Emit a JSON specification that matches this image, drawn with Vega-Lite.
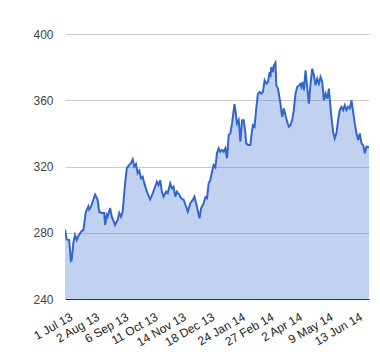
{
  "$schema": "https://vega.github.io/schema/vega-lite/v6.json",
  "autosize": "none",
  "width": 304,
  "height": 265,
  "padding": {"left": 65, "top": 34, "right": 11, "bottom": 61},
  "background": "white",
  "config": {
    "view": {"stroke": null},
    "font": "Liberation Sans",
    "axis": {"labelFont": "Liberation Sans", "labelFontSize": 12, "labelColor": "#444", "title": null}
  },
  "data": {
    "values": [
      {"date": "2013-07-01", "price": 282},
      {"date": "2013-07-03", "price": 276},
      {"date": "2013-07-06", "price": 275.6},
      {"date": "2013-07-08", "price": 263},
      {"date": "2013-07-09", "price": 263.5},
      {"date": "2013-07-11", "price": 274},
      {"date": "2013-07-13", "price": 278.6},
      {"date": "2013-07-15", "price": 275.6},
      {"date": "2013-07-17", "price": 278},
      {"date": "2013-07-21", "price": 281},
      {"date": "2013-07-23", "price": 281.6},
      {"date": "2013-07-26", "price": 292.7},
      {"date": "2013-07-29", "price": 296},
      {"date": "2013-07-30", "price": 294},
      {"date": "2013-08-01", "price": 295.5},
      {"date": "2013-08-03", "price": 298.7},
      {"date": "2013-08-06", "price": 303},
      {"date": "2013-08-09", "price": 300},
      {"date": "2013-08-11", "price": 292.7},
      {"date": "2013-08-14", "price": 292},
      {"date": "2013-08-17", "price": 292},
      {"date": "2013-08-18", "price": 284.7},
      {"date": "2013-08-20", "price": 290.7},
      {"date": "2013-08-21", "price": 289.7},
      {"date": "2013-08-24", "price": 295},
      {"date": "2013-08-26", "price": 289.7},
      {"date": "2013-08-30", "price": 284.7},
      {"date": "2013-09-02", "price": 287.7},
      {"date": "2013-09-04", "price": 292},
      {"date": "2013-09-06", "price": 289.7},
      {"date": "2013-09-08", "price": 292.7},
      {"date": "2013-09-11", "price": 310},
      {"date": "2013-09-13", "price": 319},
      {"date": "2013-09-16", "price": 321},
      {"date": "2013-09-18", "price": 322},
      {"date": "2013-09-20", "price": 324.3},
      {"date": "2013-09-22", "price": 320},
      {"date": "2013-09-24", "price": 321.5},
      {"date": "2013-09-26", "price": 316},
      {"date": "2013-09-28", "price": 317.5},
      {"date": "2013-09-30", "price": 312.9},
      {"date": "2013-10-02", "price": 313.8},
      {"date": "2013-10-04", "price": 309.8},
      {"date": "2013-10-07", "price": 304.8},
      {"date": "2013-10-11", "price": 300.2},
      {"date": "2013-10-14", "price": 303.8},
      {"date": "2013-10-17", "price": 307.8},
      {"date": "2013-10-19", "price": 310.8},
      {"date": "2013-10-21", "price": 308.8},
      {"date": "2013-10-23", "price": 311.8},
      {"date": "2013-10-25", "price": 304.8},
      {"date": "2013-10-27", "price": 301.8},
      {"date": "2013-10-30", "price": 304.8},
      {"date": "2013-11-01", "price": 303.8},
      {"date": "2013-11-04", "price": 309.8},
      {"date": "2013-11-06", "price": 306.8},
      {"date": "2013-11-08", "price": 307.8},
      {"date": "2013-11-10", "price": 301.8},
      {"date": "2013-11-12", "price": 304.8},
      {"date": "2013-11-15", "price": 302.8},
      {"date": "2013-11-17", "price": 300.8},
      {"date": "2013-11-20", "price": 300},
      {"date": "2013-11-23", "price": 295.7},
      {"date": "2013-11-25", "price": 292.7},
      {"date": "2013-11-28", "price": 297.8},
      {"date": "2013-12-01", "price": 299.8},
      {"date": "2013-12-03", "price": 301.8},
      {"date": "2013-12-06", "price": 295.7},
      {"date": "2013-12-09", "price": 288.7},
      {"date": "2013-12-11", "price": 294.7},
      {"date": "2013-12-14", "price": 297.8},
      {"date": "2013-12-16", "price": 301.4},
      {"date": "2013-12-18", "price": 300.8},
      {"date": "2013-12-20", "price": 309.8},
      {"date": "2013-12-22", "price": 311.8},
      {"date": "2013-12-24", "price": 316.8},
      {"date": "2013-12-26", "price": 320.9},
      {"date": "2013-12-28", "price": 319.5},
      {"date": "2013-12-30", "price": 328},
      {"date": "2014-01-01", "price": 331},
      {"date": "2014-01-03", "price": 328.9},
      {"date": "2014-01-05", "price": 330},
      {"date": "2014-01-07", "price": 328.9},
      {"date": "2014-01-09", "price": 331},
      {"date": "2014-01-11", "price": 325},
      {"date": "2014-01-13", "price": 339},
      {"date": "2014-01-15", "price": 340},
      {"date": "2014-01-17", "price": 346},
      {"date": "2014-01-19", "price": 354},
      {"date": "2014-01-20", "price": 357.7},
      {"date": "2014-01-22", "price": 350},
      {"date": "2014-01-23", "price": 346},
      {"date": "2014-01-25", "price": 348},
      {"date": "2014-01-27", "price": 335},
      {"date": "2014-01-29", "price": 348},
      {"date": "2014-01-31", "price": 348},
      {"date": "2014-02-02", "price": 340},
      {"date": "2014-02-03", "price": 334},
      {"date": "2014-02-05", "price": 333},
      {"date": "2014-02-08", "price": 333},
      {"date": "2014-02-09", "price": 338},
      {"date": "2014-02-11", "price": 345},
      {"date": "2014-02-13", "price": 344},
      {"date": "2014-02-15", "price": 355},
      {"date": "2014-02-17", "price": 364},
      {"date": "2014-02-19", "price": 365},
      {"date": "2014-02-21", "price": 364},
      {"date": "2014-02-23", "price": 365},
      {"date": "2014-02-25", "price": 372},
      {"date": "2014-02-27", "price": 370},
      {"date": "2014-03-01", "price": 371},
      {"date": "2014-03-03", "price": 377},
      {"date": "2014-03-04", "price": 374},
      {"date": "2014-03-05", "price": 380},
      {"date": "2014-03-07", "price": 377},
      {"date": "2014-03-08", "price": 381},
      {"date": "2014-03-10", "price": 382.7},
      {"date": "2014-03-11", "price": 369},
      {"date": "2014-03-13", "price": 367},
      {"date": "2014-03-16", "price": 358},
      {"date": "2014-03-18", "price": 350},
      {"date": "2014-03-20", "price": 355},
      {"date": "2014-03-22", "price": 351},
      {"date": "2014-03-24", "price": 347},
      {"date": "2014-03-26", "price": 344},
      {"date": "2014-03-28", "price": 345},
      {"date": "2014-03-30", "price": 348},
      {"date": "2014-04-01", "price": 354},
      {"date": "2014-04-03", "price": 364},
      {"date": "2014-04-05", "price": 368},
      {"date": "2014-04-07", "price": 369},
      {"date": "2014-04-09", "price": 370},
      {"date": "2014-04-10", "price": 368},
      {"date": "2014-04-12", "price": 371},
      {"date": "2014-04-13", "price": 366},
      {"date": "2014-04-15", "price": 378},
      {"date": "2014-04-17", "price": 368},
      {"date": "2014-04-19", "price": 358},
      {"date": "2014-04-21", "price": 370},
      {"date": "2014-04-23", "price": 379},
      {"date": "2014-04-25", "price": 375},
      {"date": "2014-04-27", "price": 369},
      {"date": "2014-04-29", "price": 373},
      {"date": "2014-05-01", "price": 370},
      {"date": "2014-05-03", "price": 374},
      {"date": "2014-05-05", "price": 371},
      {"date": "2014-05-07", "price": 360},
      {"date": "2014-05-09", "price": 364},
      {"date": "2014-05-11", "price": 361},
      {"date": "2014-05-13", "price": 367},
      {"date": "2014-05-14", "price": 361},
      {"date": "2014-05-16", "price": 350},
      {"date": "2014-05-18", "price": 341},
      {"date": "2014-05-20", "price": 337},
      {"date": "2014-05-22", "price": 340},
      {"date": "2014-05-24", "price": 348},
      {"date": "2014-05-26", "price": 354},
      {"date": "2014-05-28", "price": 356},
      {"date": "2014-05-30", "price": 354},
      {"date": "2014-06-01", "price": 357},
      {"date": "2014-06-03", "price": 354},
      {"date": "2014-06-05", "price": 356},
      {"date": "2014-06-07", "price": 355},
      {"date": "2014-06-09", "price": 360},
      {"date": "2014-06-11", "price": 353},
      {"date": "2014-06-13", "price": 346},
      {"date": "2014-06-15", "price": 340},
      {"date": "2014-06-17", "price": 336},
      {"date": "2014-06-19", "price": 340},
      {"date": "2014-06-21", "price": 334},
      {"date": "2014-06-23", "price": 333},
      {"date": "2014-06-25", "price": 328},
      {"date": "2014-06-27", "price": 332},
      {"date": "2014-06-29", "price": 331.6},
      {"date": "2014-06-30", "price": 332}
    ]
  },
  "mark": {
    "type": "area",
    "color": "#3366cc",
    "fillOpacity": 0.3,
    "clip": true,
    "line": {"color": "#3366cc", "strokeWidth": 2}
  },
  "encoding": {
    "x": {
      "field": "date",
      "type": "temporal",
      "scale": {
        "type": "utc",
        "domain": [
          {"year": 2013, "month": 7, "date": 1, "utc": true},
          {"year": 2014, "month": 6, "date": 30, "utc": true}
        ]
      },
      "axis": {
        "values": [
          {"year": 2013, "month": 7, "date": 1, "utc": true},
          {"year": 2013, "month": 8, "date": 2, "utc": true},
          {"year": 2013, "month": 9, "date": 6, "utc": true},
          {"year": 2013, "month": 10, "date": 11, "utc": true},
          {"year": 2013, "month": 11, "date": 14, "utc": true},
          {"year": 2013, "month": 12, "date": 18, "utc": true},
          {"year": 2014, "month": 1, "date": 24, "utc": true},
          {"year": 2014, "month": 2, "date": 27, "utc": true},
          {"year": 2014, "month": 4, "date": 2, "utc": true},
          {"year": 2014, "month": 5, "date": 9, "utc": true},
          {"year": 2014, "month": 6, "date": 13, "utc": true}
        ],
        "labelExpr": "utcFormat(datum.value, '%-d %b %y')",
        "labelAngle": -30,
        "labelAlign": "right",
        "labelBaseline": "top",
        "labelColor": "#222",
        "labelPadding": 12,
        "labelOffset": 3.5,
        "labelOverlap": false,
        "labelFlush": false,
        "ticks": false,
        "grid": false,
        "domainColor": "#333",
        "domainWidth": 1
      }
    },
    "y": {
      "field": "price",
      "type": "quantitative",
      "scale": {"domain": [240, 400], "nice": false, "zero": false},
      "axis": {
        "values": [240, 280, 320, 360, 400],
        "grid": true,
        "gridColor": "#ccc",
        "domain": false,
        "ticks": false,
        "labelPadding": 12
      }
    }
  }
}
